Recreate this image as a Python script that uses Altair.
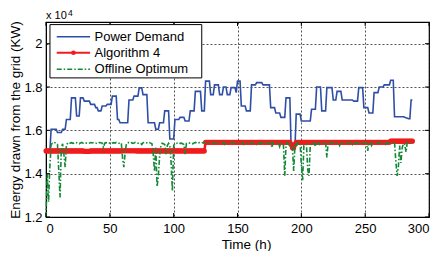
import altair as alt
import pandas as pd

# ---- data (hourly, kW) ----
hours = list(range(288))

power_demand = [
    15000, 15000, 15000, 15000, 16050, 16050, 16050, 16050, 16050, 15900, 15900, 15900,
    15900, 16050, 16050, 16050, 16500, 16500, 16500, 16500, 17500, 17500, 17500, 17500,
    16660, 16660, 16660, 17500, 17500, 17500, 17350, 17350, 17350, 17350, 17350, 17200,
    17200, 17200, 17200, 17050, 17050, 16900, 16900, 16900, 17120, 17120, 17120, 17120,
    17200, 17200, 17200, 17200, 17580, 17580, 17580, 17580, 16500, 16500, 16350, 16350,
    16350, 16350, 16350, 16350, 16350, 17400, 17400, 17400, 17400, 17580, 17580, 17580,
    17580, 17960, 17960, 17960, 17650, 17650, 17650, 17650, 16350, 16350, 16350, 16350,
    16350, 16350, 16050, 16050, 16050, 16350, 16350, 16350, 16350, 16900, 16900, 16900,
    16900, 15600, 15600, 15600, 15600, 16500, 16500, 16500, 16500, 16600, 16600, 16600,
    16600, 16430, 16430, 16430, 16430, 16900, 16900, 16900, 16900, 17800, 17800, 17800,
    17800, 17800, 16900, 16900, 16900, 18270, 18270, 18270, 18270, 17650, 17650, 17650,
    18100, 18100, 18100, 18100, 17650, 17650, 17650, 18000, 18000, 18000, 17650, 17650,
    17650, 17970, 17970, 17970, 17970, 17740, 18270, 18270, 18270, 17120, 17120, 17120,
    17120, 16900, 16900, 16900, 16900, 18100, 18100, 18100, 18100, 18200, 18200, 18200,
    18200, 18200, 18100, 18100, 18100, 18100, 18100, 18100, 17050, 17050, 17050, 17050,
    16800, 16800, 16800, 16800, 16600, 16600, 16600, 16600, 17500, 17500, 17500, 17500,
    15200, 15200, 15200, 15200, 16750, 16750, 16750, 16750, 16430, 16430, 16430, 16430,
    16430, 16430, 16430, 16430, 16970, 16970, 16970, 16970, 18000, 18000, 18000, 18000,
    16900, 16900, 16900, 16900, 17970, 17970, 17970, 17970, 17970, 17400, 17400, 17400,
    17800, 17800, 17800, 17800, 17400, 17400, 17400, 17400, 17400, 17400, 17400, 17400,
    17400, 17350, 17350, 17350, 17350, 17970, 17970, 17970, 17970, 17050, 17050, 17050,
    17050, 16800, 16800, 16800, 16800, 17740, 17740, 17740, 17740, 18000, 18000, 18000,
    18000, 18100, 18100, 18100, 18100, 18100, 18310, 18310, 18310, 16630, 16630, 16630,
    16630, 16630, 16630, 16630, 16630, 16600, 16580, 16560, 16540, 16540, 17400, 17400,
]

algorithm4 = [
    15050, 15050, 15050, 15050, 15050, 15050, 15050, 15050, 15050, 15050, 15050, 15050,
    15050, 15050, 15050, 15050, 15050, 15050, 15050, 15050, 15050, 15050, 15050, 15050,
    15050, 15050, 15050, 15050, 15050, 15050, 15030, 15030, 15030, 15030, 15030, 15050,
    15050, 15050, 15050, 15050, 15050, 15050, 15050, 15050, 15050, 15050, 15050, 15050,
    15050, 15050, 15050, 15050, 15050, 15050, 15050, 15050, 15050, 15050, 15050, 15050,
    15060, 15060, 15060, 15060, 15060, 15060, 15060, 15060, 15060, 15060, 15060, 15050,
    15050, 15050, 15050, 15050, 15050, 15050, 15050, 15050, 15050, 15050, 15050, 15050,
    15050, 15050, 15050, 15050, 15050, 15050, 15050, 15050, 15050, 15050, 15050, 15050,
    15050, 15050, 15050, 15050, 15050, 15050, 15050, 15050, 15050, 15050, 15050, 15050,
    15050, 15050, 15050, 15050, 15050, 15050, 15050, 15050, 15050, 15050, 15050, 15050,
    15050, 15050, 15050, 15050, 15050, 15450, 15450, 15450, 15450, 15450, 15450, 15450,
    15450, 15450, 15450, 15450, 15450, 15450, 15450, 15450, 15450, 15450, 15450, 15450,
    15450, 15450, 15450, 15450, 15450, 15450, 15450, 15450, 15450, 15450, 15450, 15450,
    15450, 15450, 15450, 15450, 15450, 15450, 15450, 15450, 15450, 15450, 15450, 15450,
    15450, 15450, 15450, 15450, 15450, 15450, 15450, 15450, 15450, 15450, 15450, 15450,
    15450, 15450, 15450, 15450, 15450, 15450, 15450, 15450, 15450, 15450, 15450, 15450,
    15350, 15200, 15200, 15350, 15450, 15450, 15450, 15450, 15450, 15450, 15450, 15450,
    15450, 15450, 15450, 15450, 15450, 15450, 15450, 15450, 15450, 15450, 15450, 15450,
    15450, 15450, 15450, 15450, 15450, 15450, 15450, 15450, 15450, 15450, 15450, 15450,
    15450, 15450, 15450, 15450, 15450, 15450, 15450, 15450, 15450, 15450, 15450, 15450,
    15450, 15450, 15450, 15450, 15450, 15450, 15450, 15450, 15450, 15450, 15450, 15450,
    15450, 15450, 15450, 15450, 15450, 15450, 15450, 15450, 15450, 15450, 15450, 15450,
    15450, 15450, 15450, 15450, 15450, 15450, 15500, 15500, 15500, 15500, 15500, 15500,
    15500, 15500, 15500, 15500, 15500, 15500, 15500, 15500, 15500, 15500, 15500, 15500,
]

offline_optimum = [
    12000, 14000, 12700, 14300, 15350, 15400, 15380, 15430, 15400, 15350, 14150, 12900,
    15200, 15380, 14900, 14300, 15300, 15420, 15440, 15410, 15430, 15400, 15420, 15450,
    15430, 15400, 15380, 15420, 15440, 15410, 15430, 15420, 15400, 15380, 15410, 15440,
    15430, 15420, 15400, 15410, 15380, 15420, 15440, 15430, 15410, 15200, 15410, 15430,
    15420, 15440, 15400, 15380, 15420, 15430, 15410, 15440, 15420, 15400, 15430, 15410,
    14700, 14300, 15000, 15380, 15420, 15440, 15410, 15430, 15400, 15420, 15450, 15430,
    15410, 15400, 15420, 15350, 15430, 15440, 15410, 15420, 15400, 15430, 15410, 15380,
    14900, 14100, 15200, 13400, 13900, 14800, 15300, 15400, 15380, 15350, 14900, 15300,
    15400, 15300, 14500, 13200, 15300, 15400, 15380, 15420, 15430, 15400, 15410, 15380,
    15350, 14900, 15400, 15420, 15410, 15430, 15400, 15380, 15420, 15440, 15410, 15400,
    15430, 15420, 15410, 15440, 15430, 15440, 15430, 15440, 15420, 15440, 15430, 15440,
    15440, 15420, 15440, 15430, 15440, 15440, 15420, 15430, 15350, 15440, 15430, 15440,
    15420, 15440, 15430, 15440, 15440, 15420, 15430, 15440, 15430, 15440, 15420, 15350,
    15440, 15430, 15440, 15420, 15440, 15430, 15440, 15440, 15420, 15350, 15440, 15430,
    15440, 15420, 15350, 15440, 15430, 15440, 15420, 15440, 15430, 15200, 15440, 15430,
    15420, 15440, 15430, 15250, 15440, 15430, 15300, 13900, 15300, 15430, 15350, 15430,
    15300, 15200, 14130, 15300, 15250, 15430, 15440, 15420, 14400, 13700, 15300, 15300,
    15350, 14200, 13900, 15300, 15430, 15440, 15420, 15250, 15440, 15430, 15350, 15440,
    15420, 15440, 15430, 15440, 14750, 15430, 15440, 15420, 15440, 15430, 15440, 15420,
    15440, 15430, 15300, 15440, 15420, 15440, 15430, 15440, 15420, 15440, 15430, 15440,
    15350, 15440, 15430, 15420, 15440, 15350, 15440, 15430, 15440, 15420, 15440, 15430,
    15050, 15440, 15420, 15300, 15440, 15430, 15440, 15420, 15440, 15430, 15440, 15420,
    15440, 15430, 15350, 15440, 15420, 15440, 15450, 15440, 15450, 15440, 14600, 13900,
    14300, 15300, 14500, 15200, 15400, 15350, 15000, 15450, 15430, 15440, 15450, 15440,
]

x_ticks = [0, 50, 100, 150, 200, 250, 300]
y_ticks = [12000, 14000, 16000, 18000, 20000]
legend_labels = ["Power Demand", "Algorithm 4", "Offline Optimum"]

BLUE = "#2F4FA6"
RED = "#F01C1C"
GREEN = "#138A36"
FONT = "Liberation Sans"

W, H = 383, 195

df_blue = pd.DataFrame({"t": hours, "v": power_demand})
df_red = pd.DataFrame({"t": hours, "v": algorithm4})
df_green = pd.DataFrame({"t": hours, "v": offline_optimum})

xscale = alt.Scale(domain=[0, 300], nice=False, zero=False)
yscale = alt.Scale(domain=[12000, 21000], nice=False, zero=False)

xaxis = alt.Axis(values=x_ticks, title="Time (h)", grid=True, ticks=False,
                 labelPadding=5, labelFontSize=13, titleFontSize=13.5,
                 titleFontWeight=400,
                 titleX=200, titleY=31, titleBaseline="alphabetic")
yaxis = alt.Axis(values=y_ticks, title="Energy drawn from the grid (KW)", grid=True,
                 ticks=False, labelPadding=4, labelFontSize=13, titleFontSize=13.5,
                 titleFontWeight=400,
                 labelExpr="datum.value / 10000",
                 titleX=-31, titleY=H / 2, titleAngle=270, titleAlign="center",
                 titleBaseline="middle")

X = alt.X("t:Q", scale=xscale, axis=xaxis)
Y = alt.Y("v:Q", scale=yscale, axis=yaxis)

blue = alt.Chart(df_blue).mark_line(color=BLUE, strokeWidth=1.6).encode(x=X, y=Y)
red = alt.Chart(df_red).mark_line(
    color=RED, strokeWidth=2.5,
    point=alt.OverlayMarkDef(filled=True, size=26, color=RED, opacity=1)
).encode(x=alt.X("t:Q", scale=xscale), y=alt.Y("v:Q", scale=yscale))
green = alt.Chart(df_green).mark_line(
    color=GREEN, strokeWidth=1.6, strokeDash=[5, 2, 1.5, 2]
).encode(x=alt.X("t:Q", scale=xscale), y=alt.Y("v:Q", scale=yscale))

# inward tick marks (MATLAB style)
df_xt = pd.DataFrame({"t": x_ticks})
df_yt = pd.DataFrame({"v": y_ticks})
xt_bottom = alt.Chart(df_xt).mark_rule(color="black", strokeWidth=1).encode(
    x=alt.X("t:Q", scale=xscale), y=alt.value(H), y2=alt.value(H - 4))
xt_top = alt.Chart(df_xt).mark_rule(color="black", strokeWidth=1).encode(
    x=alt.X("t:Q", scale=xscale), y=alt.value(0), y2=alt.value(4))
yt_left = alt.Chart(df_yt).mark_rule(color="black", strokeWidth=1).encode(
    y=alt.Y("v:Q", scale=yscale), x=alt.value(0), x2=alt.value(4))
yt_right = alt.Chart(df_yt).mark_rule(color="black", strokeWidth=1).encode(
    y=alt.Y("v:Q", scale=yscale), x=alt.value(W), x2=alt.value(W - 4))

# legend (in data coordinates)
df_box = pd.DataFrame({"x": [3.1], "x2": [122], "y": [20880], "y2": [18420]})
box = alt.Chart(df_box).mark_rect(fill="white", stroke="black", strokeWidth=1).encode(
    x=alt.X("x:Q", scale=xscale), x2="x2", y=alt.Y("y:Q", scale=yscale), y2="y2")

leg_y = [20320, 19580, 18820]
df_leg = pd.DataFrame({"label": legend_labels, "y": leg_y, "x": [8.4] * 3,
                       "x2": [34.5] * 3, "tx": [38.0] * 3, "mx": [21.5] * 3})
leg_blue = alt.Chart(df_leg.iloc[[0]]).mark_rule(color=BLUE, strokeWidth=1.6).encode(
    x=alt.X("x:Q", scale=xscale), x2="x2", y=alt.Y("y:Q", scale=yscale))
leg_red = alt.Chart(df_leg.iloc[[1]]).mark_rule(color=RED, strokeWidth=2).encode(
    x=alt.X("x:Q", scale=xscale), x2="x2", y=alt.Y("y:Q", scale=yscale))
leg_red_pt = alt.Chart(df_leg.iloc[[1]]).mark_point(
    filled=True, color=RED, size=22, opacity=1).encode(
    x=alt.X("mx:Q", scale=xscale), y=alt.Y("y:Q", scale=yscale))
leg_green = alt.Chart(df_leg.iloc[[2]]).mark_rule(
    color=GREEN, strokeWidth=1.6, strokeDash=[5, 2, 1.5, 2]).encode(
    x=alt.X("x:Q", scale=xscale), x2="x2", y=alt.Y("y:Q", scale=yscale))
leg_text = alt.Chart(df_leg).mark_text(
    align="left", baseline="middle", fontSize=13, font=FONT, color="black").encode(
    x=alt.X("tx:Q", scale=xscale), y=alt.Y("y:Q", scale=yscale), text="label:N")

# "x 10^4" exponent label
df_exp = pd.DataFrame({"a": ["x 10"], "b": ["4"]})
exp_base = alt.Chart(df_exp).mark_text(
    align="left", baseline="alphabetic", fontSize=11, font=FONT, color="black").encode(
    x=alt.value(0), y=alt.value(-3), text="a:N")
exp_sup = alt.Chart(df_exp).mark_text(
    align="left", baseline="alphabetic", fontSize=8.5, font=FONT, color="black").encode(
    x=alt.value(22), y=alt.value(-6.5), text="b:N")

chart = alt.layer(
    blue, red, green, xt_bottom, xt_top, yt_left, yt_right,
    box, leg_blue, leg_red, leg_red_pt, leg_green, leg_text, exp_base, exp_sup
).properties(
    width=W, height=H,
    autosize="none",
    padding={"left": 38, "top": 14, "right": 1, "bottom": 34},
).configure(font=FONT).configure_view(
    stroke="black", strokeWidth=1.2
).configure_axis(
    domain=True, domainColor="black", domainWidth=1,
    gridColor="black", gridDash=[2, 2], gridWidth=0.8, gridOpacity=0.85,
    labelColor="black", titleColor="black", labelFont=FONT, titleFont=FONT,
    titleFontWeight=400
)

chart.save("out.html", embed_options={"renderer": "svg", "actions": False})
